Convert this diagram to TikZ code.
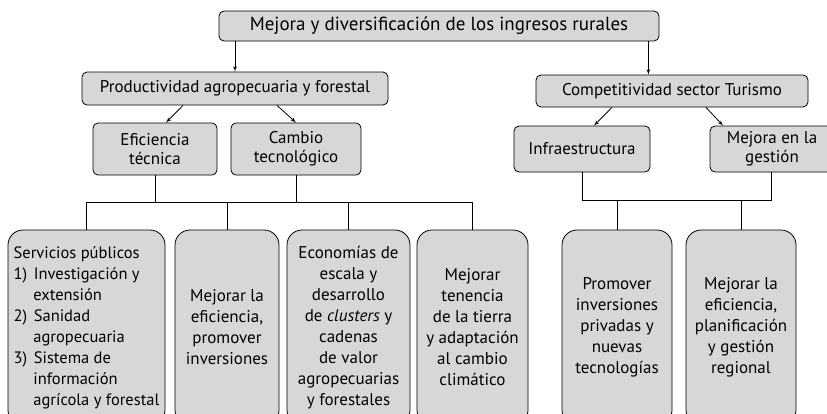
\documentclass[tikz,border=0pt]{standalone}
\usepackage{fontspec}
\setmainfont{PT Sans}
\usepackage{tikz}
\usetikzlibrary{arrows,calc,positioning}
\definecolor{boxgray}{RGB}{215,215,217}
\tikzstyle{arrow} = [draw, -latex']
\tikzstyle{box} = [draw, fill=boxgray, rounded corners=5pt, align=center, inner sep=0pt, font={\fontsize{17}{19}\selectfont}]
\tikzstyle{tallbox} = [box, rounded corners=15pt, minimum height=195pt, font={\fontsize{17}{21}\selectfont}]

\begin{document}
\begin{tikzpicture}[
      x=1pt, y=-1pt,
      line width=0.8pt
    ]
      \useasboundingbox (0,0) rectangle (827,413);

      \node[box, minimum width=440pt, minimum height=30pt, font={\fontsize{19}{21}\selectfont}] (ingresos) at (439,26) {Mejora y diversificación de los ingresos rurales};
      \node[box, minimum width=306pt, minimum height=33pt] (prod) at (235,88.5) {Productividad agropecuaria y forestal};
      \node[box, minimum width=272pt, minimum height=32pt] (turismo) at (672,91) {Competitividad sector Turismo};

      \node[box, minimum width=124pt, minimum height=52pt] (efic) at (155,149) {Eficiencia\\técnica};
      \node[box, minimum width=130pt, minimum height=52pt] (cambio) at (296,149) {Cambio\\tecnológico};
      \node[box, minimum width=136pt, minimum height=46pt] (infra) at (582,149) {Infraestructura};
      \node[box, minimum width=124pt, minimum height=46pt] (gestion) at (772,149) {Mejora en la\\gestión};

      \node[tallbox, minimum width=157pt, align=left, font={\fontsize{16.5}{21}\selectfont}] (servicios) at (86.5,327.5) {Servicios públicos\\
        1)\hspace{0.4em}Investigación y\\\hspace{1.2em}extensión\\
        2)\hspace{0.4em}Sanidad\\\hspace{1.2em}agropecuaria\\
        3)\hspace{0.4em}Sistema de\\\hspace{1.2em}información\\\hspace{1.2em}agrícola y forestal};
      \node[tallbox, minimum width=104pt] (inversiones) at (227,327.5) {Mejorar la\\eficiencia,\\promover\\inversiones};
      \node[tallbox, minimum width=123pt] (clusters) at (348.5,327.5) {Economías de\\escala y\\desarrollo\\de \textit{clusters} y\\cadenas\\de valor\\agropecuarias\\y forestales};
      \node[tallbox, minimum width=111pt] (tenencia) at (472.5,327.5) {Mejorar\\tenencia\\de la tierra\\y adaptación\\al cambio\\climático};
      \node[tallbox, minimum width=110pt] (privadas) at (617,327.5) {Promover\\inversiones\\privadas y\\nuevas\\tecnologías};
      \node[tallbox, minimum width=110pt] (regional) at (741,327.5) {Mejorar la\\eficiencia,\\planificación\\y gestión\\regional};

      % arrows from the top levels
      \path[arrow] (prod.north |- ingresos.south) -- (prod.north);
      \path[arrow] ([xshift=-11pt]ingresos.south east) -- ([xshift=-11pt]ingresos.south east |- turismo.north);
      \path[arrow] ([xshift=-52pt]prod.south) -- ([xshift=11pt]efic.north);
      \path[arrow] ([xshift=42pt]prod.south) -- (cambio.north);
      \path[arrow] ([xshift=-60pt]turismo.south) -- ([xshift=12pt]infra.north);
      \path[arrow] ([xshift=34pt]turismo.south) -- ([xshift=-49pt]gestion.north);

      % left tree
      \coordinate (busL) at (0,202);
      \draw (efic.south) -- (efic.south |- busL);
      \draw (cambio.south) -- (cambio.south |- busL);
      \draw (servicios.north |- busL) -- (tenencia.north |- busL);
      \foreach \n in {servicios,inversiones,clusters,tenencia}
        \draw (\n.north |- busL) -- (\n.north);

      % right tree
      \coordinate (busR) at (0,200);
      \draw (infra.south) -- (infra.south |- busR) -- ([xshift=-1pt]gestion.south |- busR) -- ([xshift=-1pt]gestion.south);
      \foreach \n in {privadas,regional}
        \draw (\n.north |- busR) -- (\n.north);
    \end{tikzpicture}
\end{document}
